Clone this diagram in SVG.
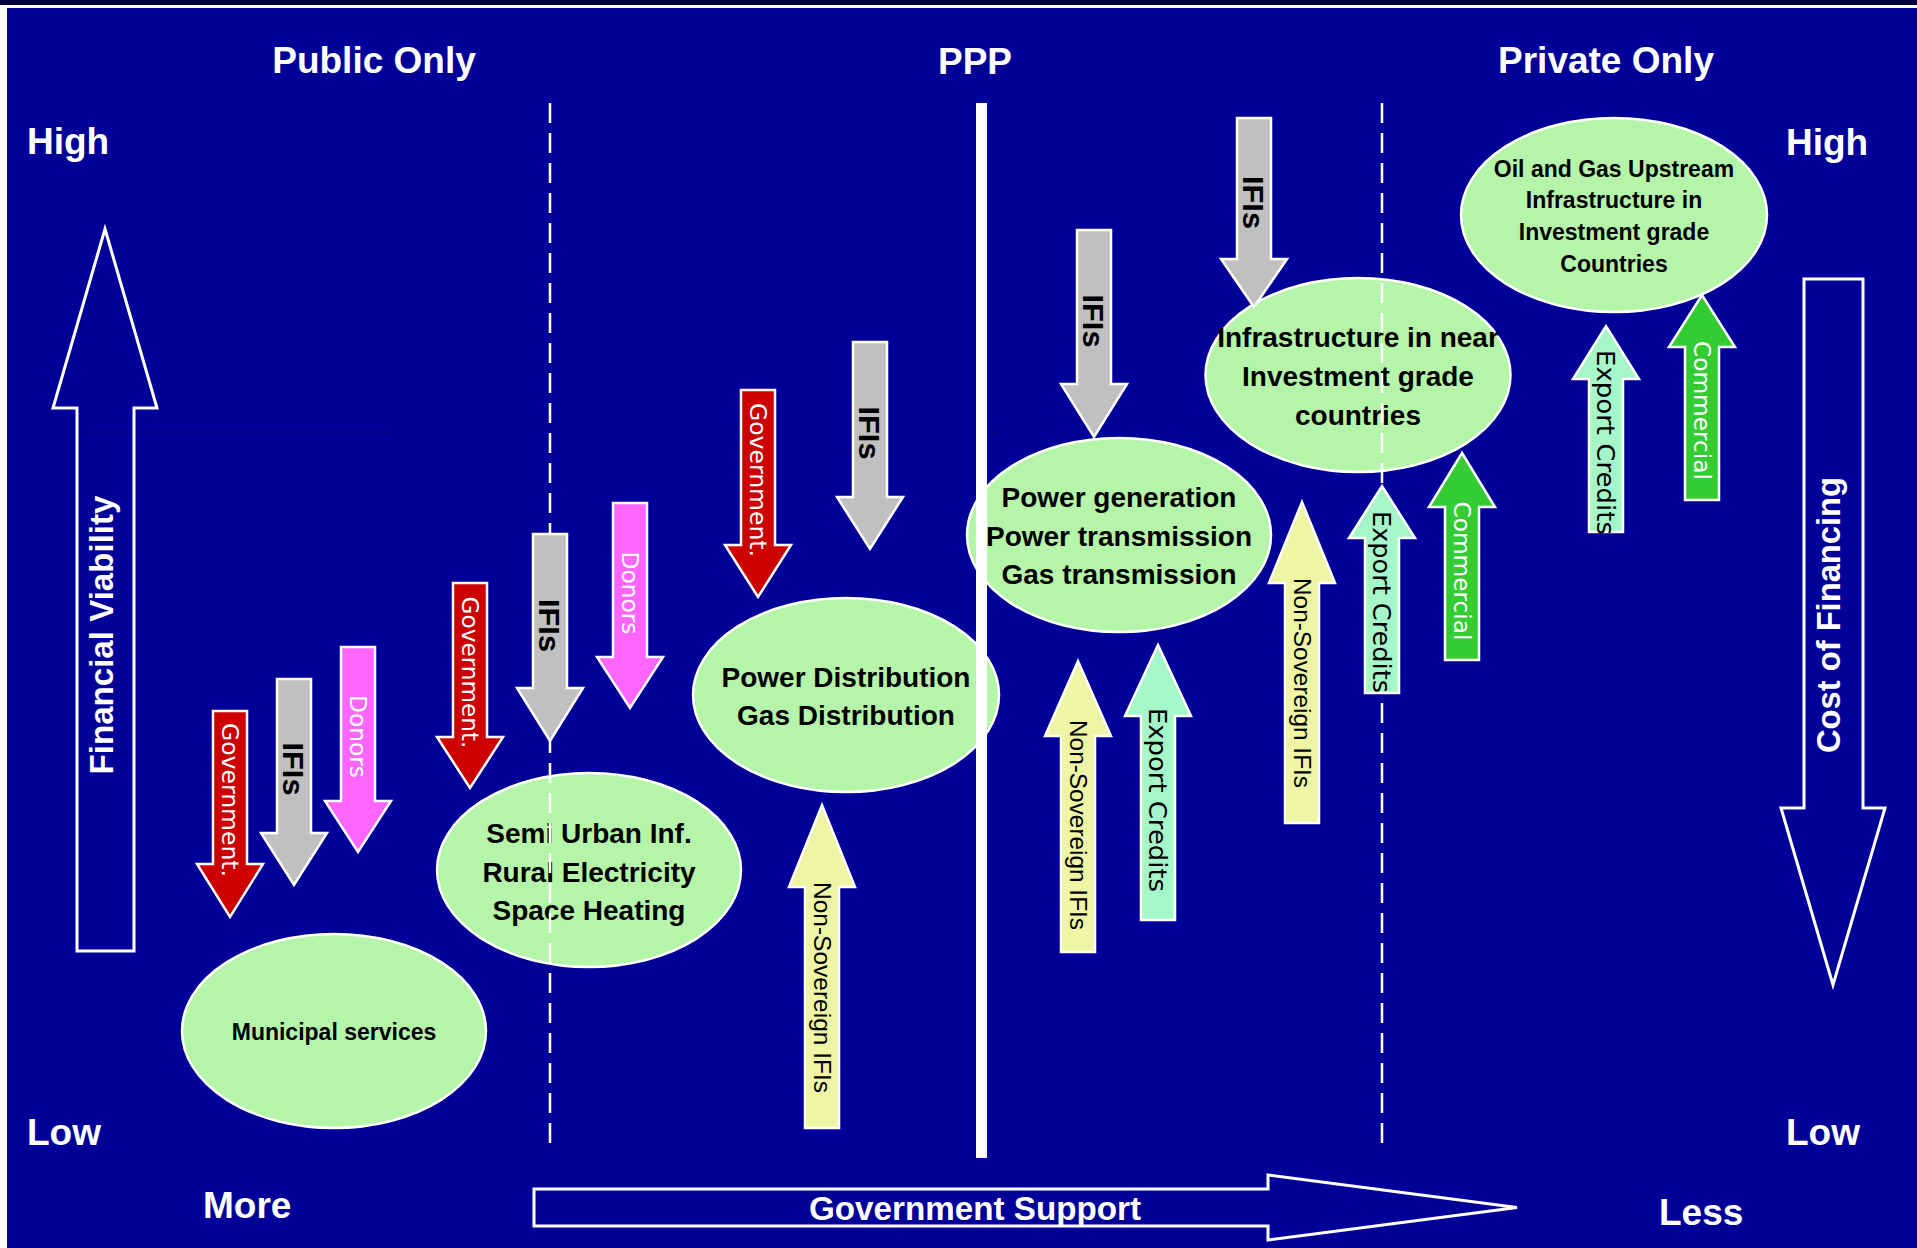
<svg xmlns="http://www.w3.org/2000/svg" width="1917" height="1248" viewBox="0 0 1917 1248">
<style>
.hdr{font-family:"Liberation Sans",Arial,sans-serif;font-weight:bold;font-size:37px;fill:#fff}
.axl{font-family:"Liberation Sans",Arial,sans-serif;font-weight:bold;font-size:33px;fill:#fff;text-anchor:middle}
.ell{fill:#B4F5A9;stroke:#fff;stroke-width:2.5}
.et{font-family:"Liberation Sans",Arial,sans-serif;font-weight:bold;font-size:28px;fill:#000;text-anchor:middle}
.et2{font-family:"Liberation Sans",Arial,sans-serif;font-weight:bold;font-size:23px;fill:#000;text-anchor:middle}
.axis{fill:none;stroke:#fff;stroke-width:3;stroke-linejoin:miter}
.arr{stroke:#fff;stroke-width:2.5;stroke-linejoin:miter}
.gov{fill:#CC0000}.ifi{fill:#C0C0C0}.don{fill:#FF66FF}.nsi{fill:#EEF5A5}.exp{fill:#A5F7CA}.com{fill:#33CC33}
.tw{font-family:"DejaVu Sans",Verdana,sans-serif;font-size:23px;fill:#fff;text-anchor:middle}
.tb{font-family:"DejaVu Sans",Verdana,sans-serif;font-size:25px;fill:#000;text-anchor:middle}
.ti{font-family:"Liberation Sans",Arial,sans-serif;font-weight:bold;font-size:30px;fill:#000;text-anchor:middle}
.tn{font-family:"Liberation Sans",Arial,sans-serif;font-size:24px;fill:#000;text-anchor:middle}
.dash{stroke:#fff;stroke-width:2.5;stroke-dasharray:20 10;fill:none}
</style>
<rect x="0" y="0" width="1917" height="1248" fill="#fff"/>
<rect x="0" y="0" width="1917" height="5" fill="#000040"/>
<rect x="7" y="8" width="1910" height="1240" fill="#000099"/>
<line x1="86" y1="432" x2="392" y2="432" stroke="#000066" stroke-width="1"/>
<line x1="988" y1="432" x2="999" y2="432" stroke="#000066" stroke-width="1"/>

<g id="headers">
<text class="hdr" x="374" y="73" text-anchor="middle">Public Only</text>
<text class="hdr" x="975" y="74" text-anchor="middle">PPP</text>
<text class="hdr" x="1606" y="73" text-anchor="middle">Private Only</text>
<text class="hdr" x="27" y="154">High</text>
<text class="hdr" x="1786" y="155">High</text>
<text class="hdr" x="27" y="1145">Low</text>
<text class="hdr" x="1786" y="1145">Low</text>
<text class="hdr" x="203" y="1218">More</text>
<text class="hdr" x="1659" y="1225">Less</text>
</g>

<g id="ellipses">
<g id="municipal"><ellipse class="ell" cx="334" cy="1031" rx="152" ry="97"/><text class="et2" x="334" y="1040">Municipal services</text></g>
<g id="semi-urban"><ellipse class="ell" cx="589" cy="870" rx="152" ry="97"/>
<text class="et" x="589" y="843">Semi Urban Inf.</text><text class="et" x="589" y="881.5">Rural Electricity</text><text class="et" x="589" y="920">Space Heating</text></g>
<g id="power-distribution"><ellipse class="ell" cx="846" cy="695" rx="153" ry="97"/>
<text class="et" x="846" y="687">Power Distribution</text><text class="et" x="846" y="725">Gas Distribution</text></g>
<g id="power-generation"><ellipse class="ell" cx="1119" cy="535" rx="152" ry="97"/>
<text class="et" x="1119" y="507">Power generation</text><text class="et" x="1119" y="546">Power transmission</text><text class="et" x="1119" y="584">Gas transmission</text></g>
<g id="near-investment"><ellipse class="ell" cx="1358" cy="375" rx="152.5" ry="97"/>
<text class="et" x="1358" y="347">Infrastructure in near</text><text class="et" x="1358" y="386">Investment grade</text><text class="et" x="1358" y="425">countries</text></g>
<g id="oil-gas"><ellipse class="ell" cx="1614" cy="215" rx="153" ry="97"/>
<text class="et2" x="1614" y="177">Oil and Gas Upstream</text><text class="et2" x="1614" y="208">Infrastructure in</text><text class="et2" x="1614" y="240">Investment grade</text><text class="et2" x="1614" y="272">Countries</text></g>
</g>

<g id="dividers">
<line class="dash" x1="550" y1="103" x2="550" y2="1150"/>
<line class="dash" x1="1382" y1="103" x2="1382" y2="1150"/>
<rect x="976" y="103" width="11" height="1055" fill="#fff"/>
</g>

<g id="financial-viability">
<polygon class="axis" points="77,951 77,408 53,408 105,229 157,408 134,408 134,951"/>
<text class="axl" transform="translate(113,635) rotate(-90)" textLength="279" lengthAdjust="spacingAndGlyphs">Financial Viability</text>
</g>
<g id="cost-of-financing">
<polygon class="axis" points="1804,279 1863,279 1863,808 1885,808 1833,985 1781,808 1804,808"/>
<text class="axl" transform="translate(1840,615) rotate(-90)" textLength="276" lengthAdjust="spacingAndGlyphs">Cost of Financing</text>
</g>
<g id="government-support">
<polygon class="axis" points="534,1189 1268,1189 1268,1175 1517,1207.5 1268,1240 1268,1226 534,1226"/>
<text class="axl" x="975" y="1220" textLength="332" lengthAdjust="spacingAndGlyphs">Government Support</text>
</g>

<g id="arrows">
<g id="a1-government"><polygon class="arr gov" points="213,711 247,711 247,864 263,864 230,917 197,864 213,864"/>
<text class="tw" transform="translate(230,800) rotate(90)" dy="0.35em" textLength="154" lengthAdjust="spacingAndGlyphs">Government.</text></g>
<g id="a2-ifis"><polygon class="arr ifi" points="277,679 311,679 311,833 327,833 294,885 261,833 277,833"/>
<text class="ti" transform="translate(294,769) rotate(90)" dy="0.36em" textLength="53" lengthAdjust="spacingAndGlyphs">IFIs</text></g>
<g id="a3-donors"><polygon class="arr don" points="341,647 375,647 375,801 391,801 358,852 325,801 341,801"/>
<text class="tw" transform="translate(358,736.5) rotate(90)" dy="0.35em" textLength="83" lengthAdjust="spacingAndGlyphs">Donors</text></g>
<g id="a4-government"><polygon class="arr gov" points="453,583 487,583 487,737 503,737 470,788 437,737 453,737"/>
<text class="tw" transform="translate(470,672.5) rotate(90)" dy="0.35em" textLength="152" lengthAdjust="spacingAndGlyphs">Government.</text></g>
<g id="a5-ifis"><polygon class="arr ifi" points="533,534 567,534 567,688 583,688 550,741 517,688 533,688"/>
<text class="ti" transform="translate(550,625.5) rotate(90)" dy="0.36em" textLength="53" lengthAdjust="spacingAndGlyphs">IFIs</text></g>
<g id="a6-donors"><polygon class="arr don" points="613,503 647,503 647,657 663,657 630,708 597,657 613,657"/>
<text class="tw" transform="translate(630,593) rotate(90)" dy="0.35em" textLength="83" lengthAdjust="spacingAndGlyphs">Donors</text></g>
<g id="a7-government"><polygon class="arr gov" points="741,390 775,390 775,545 791,545 758,597 725,545 741,545"/>
<text class="tw" transform="translate(758,480) rotate(90)" dy="0.35em" textLength="154" lengthAdjust="spacingAndGlyphs">Government.</text></g>
<g id="a8-ifis"><polygon class="arr ifi" points="853,342 887,342 887,497 903,497 870,549 837,497 853,497"/>
<text class="ti" transform="translate(870,433) rotate(90)" dy="0.36em" textLength="53" lengthAdjust="spacingAndGlyphs">IFIs</text></g>
<g id="a9-ifis"><polygon class="arr ifi" points="1077,230 1111,230 1111,384 1127,384 1094,437 1061,384 1077,384"/>
<text class="ti" transform="translate(1094,321) rotate(90)" dy="0.36em" textLength="53" lengthAdjust="spacingAndGlyphs">IFIs</text></g>
<g id="a10-ifis"><polygon class="arr ifi" points="1237,118 1271,118 1271,259 1287,259 1254,307 1221,259 1237,259"/>
<text class="ti" transform="translate(1254,202.5) rotate(90)" dy="0.36em" textLength="53" lengthAdjust="spacingAndGlyphs">IFIs</text></g>

<g id="a11-nonsovereign"><polygon class="arr nsi" points="805,1128 805,887 789,887 822,805 855,887 839,887 839,1128"/>
<text class="tn" transform="translate(822,987.5) rotate(90)" dy="0.35em" textLength="211" lengthAdjust="spacingAndGlyphs">Non-Sovereign IFIs</text></g>
<g id="a12-nonsovereign"><polygon class="arr nsi" points="1061,952 1061,736 1045,736 1078,661 1111,736 1095,736 1095,952"/>
<text class="tn" transform="translate(1078,825) rotate(90)" dy="0.35em" textLength="210" lengthAdjust="spacingAndGlyphs">Non-Sovereign IFIs</text></g>
<g id="a13-export"><polygon class="arr exp" points="1141,920 1141,716 1125,716 1158,645 1191,716 1175,716 1175,920"/>
<text class="tb" transform="translate(1158,800) rotate(90)" dy="0.35em" textLength="184" lengthAdjust="spacingAndGlyphs">Export Credits</text></g>
<g id="a14-nonsovereign"><polygon class="arr nsi" points="1285,823 1285,583 1269,583 1302,502 1335,583 1319,583 1319,823"/>
<text class="tn" transform="translate(1302,683) rotate(90)" dy="0.35em" textLength="210" lengthAdjust="spacingAndGlyphs">Non-Sovereign IFIs</text></g>
<g id="a15-export"><polygon class="arr exp" points="1365,693 1365,538 1349,538 1382,486 1415,538 1399,538 1399,693"/>
<text class="tb" transform="translate(1382,602) rotate(90)" dy="0.35em" textLength="182" lengthAdjust="spacingAndGlyphs">Export Credits</text></g>
<g id="a16-commercial"><polygon class="arr com" points="1445,660 1445,507 1429,507 1462,453 1495,507 1479,507 1479,660"/>
<text class="tw" transform="translate(1462,571) rotate(90)" dy="0.35em" textLength="139" lengthAdjust="spacingAndGlyphs">Commercial</text></g>
<g id="a17-export"><polygon class="arr exp" points="1589,532 1589,379 1573,379 1606,326 1639,379 1623,379 1623,532"/>
<text class="tb" transform="translate(1606,442.5) rotate(90)" dy="0.35em" textLength="185" lengthAdjust="spacingAndGlyphs">Export Credits</text></g>
<g id="a18-commercial"><polygon class="arr com" points="1685,500 1685,347 1669,347 1702,295 1735,347 1719,347 1719,500"/>
<text class="tw" transform="translate(1702,410.5) rotate(90)" dy="0.35em" textLength="139" lengthAdjust="spacingAndGlyphs">Commercial</text></g>
</g>
</svg>
